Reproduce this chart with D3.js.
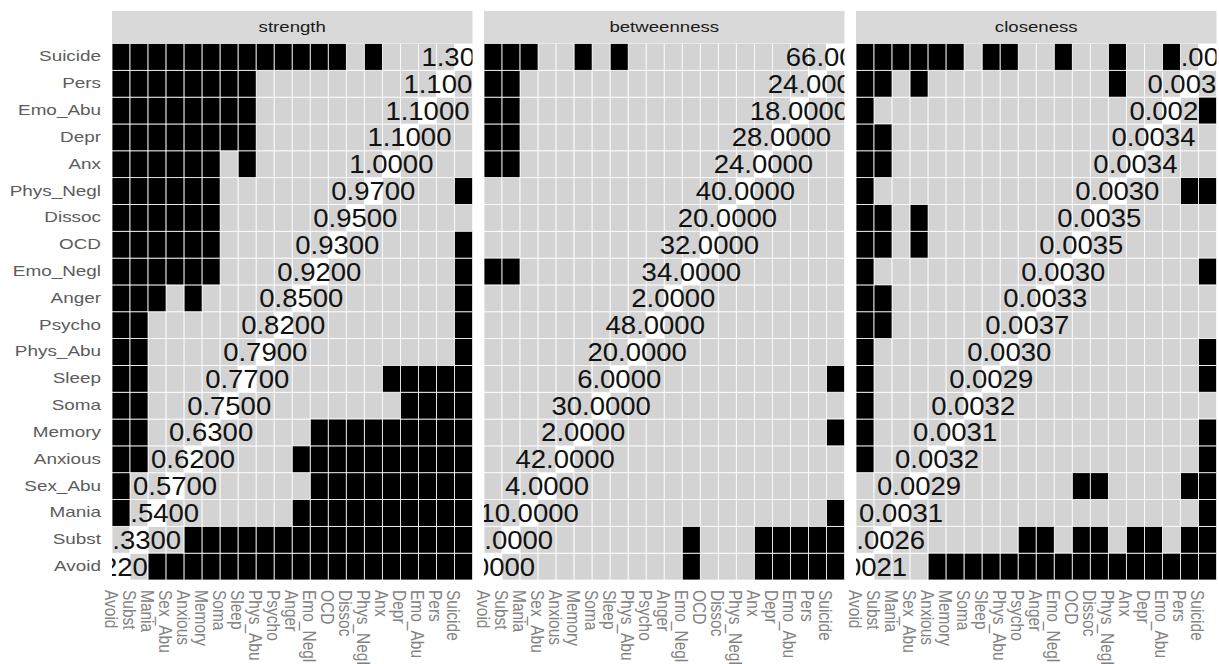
<!DOCTYPE html>
<html>
<head>
<meta charset="utf-8">
<script src="https://cdn.jsdelivr.net/npm/d3@7"></script>
<style>
  html, body { margin: 0; padding: 0; background: #ffffff; }
  svg { display: block; font-family: "Liberation Sans", Arial, sans-serif; }
</style>
</head>
<body>
<svg id="chart" width="1219" height="664"></svg>
<script>
// Node order (bottom-to-top on y, left-to-right on x)
const nodes = ["Avoid","Subst","Mania","Sex_Abu","Anxious","Memory","Soma","Sleep","Phys_Abu","Psycho",
               "Anger","Emo_Negl","OCD","Dissoc","Phys_Negl","Anx","Depr","Emo_Abu","Pers","Suicide"];

const measures = ["strength","betweenness","closeness"];

// Centrality estimates shown on the diagonal
const strengthValues    = [0.22,0.33,0.54,0.57,0.62,0.63,0.75,0.77,0.79,0.82,0.85,0.92,0.93,0.95,0.97,1.00,1.10,1.10,1.10,1.30];
const betweennessValues = [0,0,10,4,42,2,30,6,20,48,2,34,32,20,40,24,28,18,24,66];
const closenessValues   = [0.0021,0.0026,0.0031,0.0029,0.0032,0.0031,0.0032,0.0029,0.0030,0.0037,
                           0.0033,0.0030,0.0035,0.0035,0.0030,0.0034,0.0034,0.0028,0.0033,0.0036];

// Significant differences: one string per node (row), one character per node (column)
const strengthSig = [
  "00111111111111111111", // Avoid
  "00001111111111111111", // Subst
  "10000000001111111111", // Mania
  "10000000000111111111", // Sex_Abu
  "11000000001111111111", // Anxious
  "11000000000111111111", // Memory
  "11000000000000001111", // Soma
  "11000000000000011111", // Sleep
  "11000000000000000001", // Phys_Abu
  "11000000000000000001", // Psycho
  "11101000000000000001", // Anger
  "11111100000000000001", // Emo_Negl
  "11111100000000000001", // OCD
  "11111100000000000000", // Dissoc
  "11111100000000000001", // Phys_Negl
  "11111101000000000000", // Anx
  "11111111000000000000", // Depr
  "11111111000000000000", // Emo_Abu
  "11111111000000000000", // Pers
  "11111111111110100000"  // Suicide
];
const betweennessSig = [
  "00000000000100011111", // Avoid
  "00000000000100011111", // Subst
  "00000000000000000001", // Mania
  "00000000000000000000", // Sex_Abu
  "00000000000000000000", // Anxious
  "00000000000000000001", // Memory
  "00000000000000000000", // Soma
  "00000000000000000001", // Sleep
  "00000000000000000000", // Phys_Abu
  "00000000000000000000", // Psycho
  "00000000000000000000", // Anger
  "11000000000000000000", // Emo_Negl
  "00000000000000000000", // OCD
  "00000000000000000000", // Dissoc
  "00000000000000000000", // Phys_Negl
  "11000000000000000000", // Anx
  "11000000000000000000", // Depr
  "11000000000000000000", // Emo_Abu
  "11000000000000000000", // Pers
  "11100101000000000000"  // Suicide
];
const closenessSig = [
  "00001111111111111111", // Avoid
  "00000000011011011011", // Subst
  "00000000000000000001", // Mania
  "00000000000011000011", // Sex_Abu
  "10000000000000000001", // Anxious
  "10000000000000000001", // Memory
  "10000000000000000000", // Soma
  "10000000000000000001", // Sleep
  "10000000000000000001", // Phys_Abu
  "11000000000000000000", // Psycho
  "11000000000000000000", // Anger
  "10000000000000000001", // Emo_Negl
  "11010000000000000000", // OCD
  "11010000000000000000", // Dissoc
  "10000000000000000011", // Phys_Negl
  "11000000000000000000", // Anx
  "11000000000000000000", // Depr
  "10000000000000000001", // Emo_Abu
  "11010000000000100000", // Pers
  "11111101100100100100"  // Suicide
];

const panels = [
  { name: measures[0], values: strengthValues,    sig: strengthSig },
  { name: measures[1], values: betweennessValues, sig: betweennessSig },
  { name: measures[2], values: closenessValues,   sig: closenessSig }
];

// Layout
const panelLeft0 = 112, panelW = 360.5, panelGap = 11.5;
const stripTop = 11, panelTop = 43.5, panelBottom = 580;
const panelH = panelBottom - panelTop;
const textStretch = 1.35;   // wide glyphs for axis labels

const svg = d3.select("#chart");
const fmt = d3.format(".4f");

const x = d3.scaleBand().domain(nodes).range([0, panelW]);
const y = d3.scaleBand().domain(nodes.slice().reverse()).range([0, panelH]);

panels.forEach((p, pi) => {
  const left = panelLeft0 + pi * (panelW + panelGap);
  const g = svg.append("g").attr("transform", `translate(${left},${panelTop})`);

  // facet strip
  svg.append("rect")
    .attr("x", left).attr("y", stripTop)
    .attr("width", panelW).attr("height", panelTop - stripTop)
    .attr("fill", "#d9d9d9");
  svg.append("text")
    .attr("transform", `translate(${left + panelW / 2},${(stripTop + panelTop) / 2}) scale(1.33,1)`)
    .attr("dy", "0.35em")
    .attr("text-anchor", "middle")
    .attr("font-size", 14)
    .attr("fill", "#1a1a1a")
    .text(p.name);

  const clipId = "clip-" + p.name;
  svg.append("clipPath").attr("id", clipId)
    .append("rect").attr("width", panelW).attr("height", panelH);
  const body = g.append("g").attr("clip-path", `url(#${clipId})`);

  const cells = [];
  nodes.forEach((rowNode, ri) => {
    nodes.forEach((colNode, ci) => {
      cells.push({
        row: rowNode, col: colNode,
        diag: ri === ci,
        sig: p.sig[ri][ci] === "1"
      });
    });
  });

  // non-significant and diagonal tiles
  body.selectAll("rect.base")
    .data(cells.filter(d => !d.sig))
    .join("rect")
    .attr("class", "base")
    .attr("x", d => x(d.col)).attr("y", d => y(d.row))
    .attr("width", x.bandwidth()).attr("height", y.bandwidth())
    .attr("fill", d => d.diag ? "#ffffff" : "#d3d3d3")
    .attr("stroke", "#ffffff").attr("stroke-width", 0.8);

  // diagonal value labels
  body.selectAll("text.val")
    .data(nodes)
    .join("text")
    .attr("class", "val")
    .attr("transform", (d) => `translate(${x(d) + x.bandwidth() / 2},${y(d) + y.bandwidth() / 2}) scale(1.1,1)`)
    .attr("dy", "0.36em")
    .attr("text-anchor", "middle")
    .attr("font-size", 25)
    .attr("fill", "#111111")
    .text((d, i) => fmt(p.values[i]));

  // significant tiles
  body.selectAll("rect.sig")
    .data(cells.filter(d => d.sig))
    .join("rect")
    .attr("class", "sig")
    .attr("x", d => x(d.col)).attr("y", d => y(d.row))
    .attr("width", x.bandwidth()).attr("height", y.bandwidth())
    .attr("fill", "#000000")
    .attr("stroke", "#ffffff").attr("stroke-width", 0.8);

  // x axis with labels turned downwards
  const xAxis = g.append("g")
    .attr("transform", `translate(0,${panelH})`)
    .call(d3.axisBottom(x).tickSize(0).tickPadding(0));
  xAxis.select(".domain").remove();
  xAxis.selectAll("text")
    .attr("transform", "rotate(90) scale(1,1.15)")
    .attr("x", 10).attr("y", 0)
    .attr("dy", "0.9em")
    .attr("text-anchor", "start")
    .attr("font-size", 15.5)
    .attr("font-family", "Liberation Sans, Arial, sans-serif")
    .attr("fill", "#828282");

  if (pi === 0) {
    const yAxis = g.append("g")
      .call(d3.axisLeft(y).tickSize(0).tickPadding(0));
    yAxis.select(".domain").remove();
    yAxis.selectAll("text")
      .attr("x", -11 / textStretch)
      .attr("transform", `scale(${textStretch},1)`)
      .attr("font-size", 14)
      .attr("font-family", "Liberation Sans, Arial, sans-serif")
      .attr("fill", "#5c5c5c");
  }
});
</script>
</body>
</html>
